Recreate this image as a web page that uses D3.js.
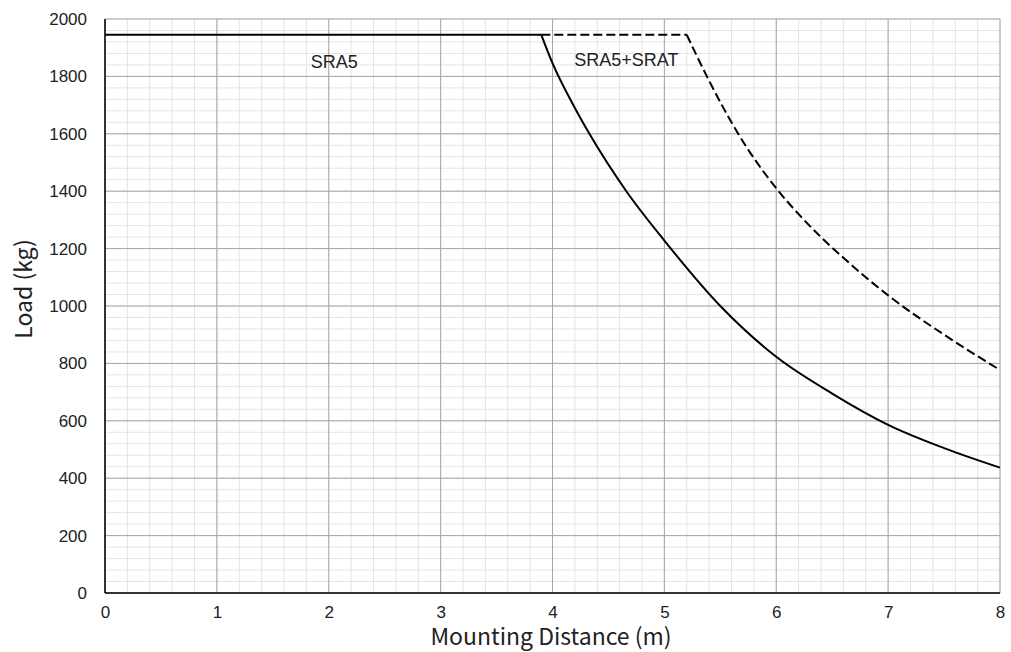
<!DOCTYPE html>
<html>
<head>
<meta charset="utf-8">
<script src="https://cdn.jsdelivr.net/npm/d3@7"></script>
<style>
  body { margin: 0; background: #fff; }
  .tick text { font-family: "Liberation Sans", Arial, sans-serif; font-size: 17px; fill: #222; }
  .axis-title { font-family: "Noto Sans CJK JP", "Noto Sans", sans-serif; font-size: 23px; fill: #222; }
  .series-label { font-family: "Liberation Sans", Arial, sans-serif; font-size: 18px; fill: #222; }
</style>
</head>
<body>
<svg id="chart"></svg>
<script>
// Data
const xTicks = [0, 1, 2, 3, 4, 5, 6, 7, 8];
const yTicks = [0, 200, 400, 600, 800, 1000, 1200, 1400, 1600, 1800, 2000];

// SRA5 (solid)
const sra5Dist = [0, 3.9, 4.0, 4.2, 4.33, 4.66, 5.0, 5.5, 6.0, 6.5, 7.0, 7.5, 8.0];
const sra5Load = [1945, 1945, 1846, 1690, 1600, 1400, 1228, 1000, 823, 695, 586, 505, 437];

// SRA5+SRAT (dashed)
const sratDist = [3.9, 5.2, 5.38, 5.66, 6.0, 6.2, 6.4, 6.6, 6.8, 7.0, 7.5, 8.0];
const sratLoad = [1945, 1945, 1800, 1600, 1410, 1320, 1240, 1168, 1100, 1037, 900, 777];

const width = 1011, height = 652;
const margin = {top: 19, right: 11, bottom: 59, left: 105};
const innerW = width - margin.left - margin.right;
const innerH = height - margin.top - margin.bottom;

const svg = d3.select('#chart').attr('width', width).attr('height', height);
const chart = svg.append('g').attr('transform', `translate(${margin.left},${margin.top})`);

const x = d3.scaleLinear().domain([0, 8]).range([0, innerW]);
const y = d3.scaleLinear().domain([0, 2000]).range([innerH, 0]);

// minor grid
const minorX = d3.range(0, 8.0001, 0.2);
const minorY = d3.range(0, 2000.001, 40);
chart.append('g').selectAll('line').data(minorX).join('line')
  .attr('x1', d => x(d)).attr('x2', d => x(d)).attr('y1', 0).attr('y2', innerH)
  .attr('stroke', '#e4e4e4').attr('stroke-width', 1);
chart.append('g').selectAll('line').data(minorY).join('line')
  .attr('y1', d => y(d)).attr('y2', d => y(d)).attr('x1', 0).attr('x2', innerW)
  .attr('stroke', '#e4e4e4').attr('stroke-width', 1);

// major grid
chart.append('g').selectAll('line').data(xTicks).join('line')
  .attr('x1', d => x(d)).attr('x2', d => x(d)).attr('y1', 0).attr('y2', innerH)
  .attr('stroke', '#a6a6a6').attr('stroke-width', 1);
chart.append('g').selectAll('line').data(yTicks).join('line')
  .attr('y1', d => y(d)).attr('y2', d => y(d)).attr('x1', 0).attr('x2', innerW)
  .attr('stroke', '#a6a6a6').attr('stroke-width', 1);

// axes
const xAxis = d3.axisBottom(x).tickValues(xTicks).tickSize(0).tickPadding(13).tickFormat(d3.format('d'));
const yAxis = d3.axisLeft(y).tickValues(yTicks).tickSize(0).tickPadding(18).tickFormat(d3.format('d'));
const xAxisG = chart.append('g').attr('transform', `translate(0,${innerH})`).call(xAxis);
const yAxisG = chart.append('g').call(yAxis);
xAxisG.select('.domain').remove();
yAxisG.select('.domain').remove();
chart.append('line').attr('x1', 0).attr('x2', innerW).attr('y1', innerH).attr('y2', innerH)
  .attr('stroke', '#000').attr('stroke-width', 1.5);
chart.append('line').attr('x1', 0).attr('x2', 0).attr('y1', 0).attr('y2', innerH)
  .attr('stroke', '#000').attr('stroke-width', 1.5);

// lines: flat part straight, falling part smooth
const line = d3.line().x(d => x(d[0])).y(d => y(d[1])).curve(d3.curveMonotoneX);
const flat = d3.line().x(d => x(d[0])).y(d => y(d[1]));

function drawSeries(dist, load, dash) {
  const pts = dist.map((d, i) => [d, load[i]]);
  const breakIdx = load.findIndex((v, i) => i > 0 && v < load[0]) - 1;
  chart.append('path').datum(pts.slice(0, breakIdx + 1))
    .attr('d', flat).attr('fill', 'none').attr('stroke', '#000').attr('stroke-width', 2)
    .attr('stroke-dasharray', dash);
  chart.append('path').datum(pts.slice(breakIdx))
    .attr('d', line).attr('fill', 'none').attr('stroke', '#000').attr('stroke-width', 2)
    .attr('stroke-dasharray', dash);
}
drawSeries(sratDist, sratLoad, '9,4');
drawSeries(sra5Dist, sra5Load, null);

// series labels
chart.append('text').attr('class', 'series-label')
  .attr('x', x(2.05)).attr('y', 68 - margin.top).attr('text-anchor', 'middle').text('SRA5');
chart.append('text').attr('class', 'series-label')
  .attr('x', x(4.66)).attr('y', 66 - margin.top).attr('text-anchor', 'middle').text('SRA5+SRAT');

// axis titles
svg.append('text').attr('class', 'axis-title')
  .attr('x', 551).attr('y', 645).attr('text-anchor', 'middle')
  .text('Mounting Distance (m)');
svg.append('text').attr('class', 'axis-title')
  .attr('transform', 'translate(32,289) rotate(-90)')
  .attr('text-anchor', 'middle').text('Load (kg)');
</script>
</body>
</html>
